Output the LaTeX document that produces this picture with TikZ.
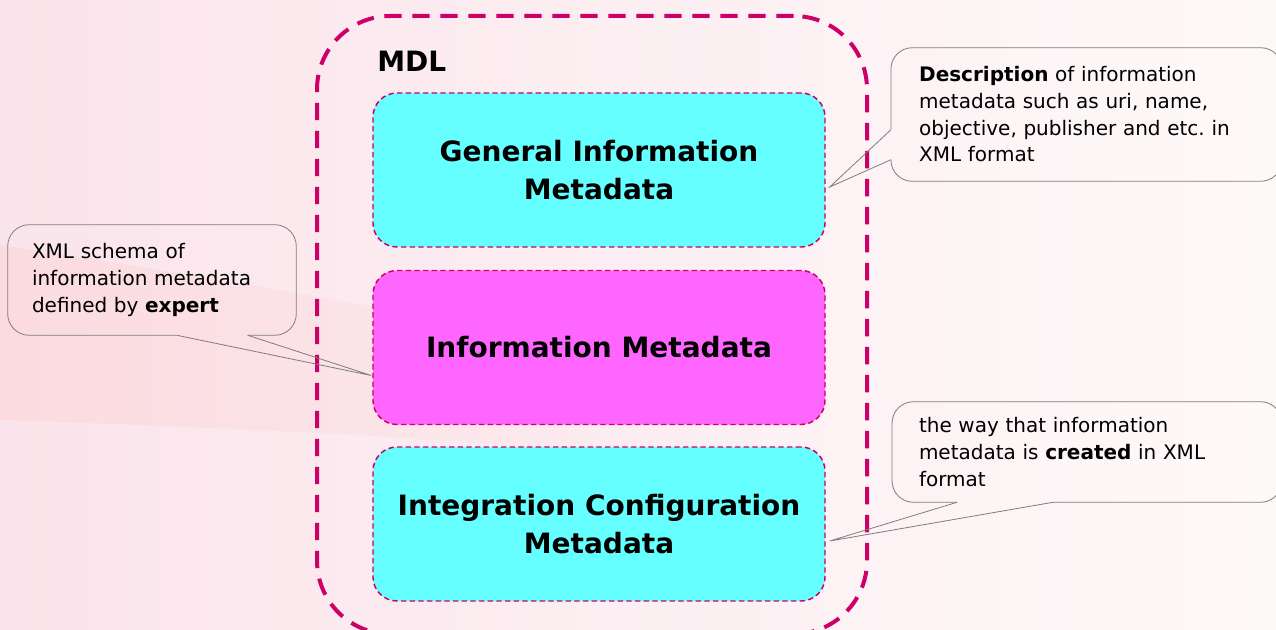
\documentclass[tikz,border=0pt]{standalone}
\usepackage{fontspec}
\setmainfont{DejaVu Sans}
\usetikzlibrary{calc,fadings}

\definecolor{mdlred}{RGB}{204,0,102}
\definecolor{metacyan}{RGB}{102,255,255}
\definecolor{metapink}{RGB}{255,102,255}
\definecolor{bgpink}{RGB}{250,228,235}
\definecolor{bgwhite}{RGB}{254,249,249}
\definecolor{notegray}{RGB}{125,125,125}

\tikzset{
  metabox/.style={draw=mdlred, line width=1.1pt, dash pattern=on 4pt off 2.5pt,
    rounded corners=18pt, minimum width=339pt, minimum height=115.5pt,
    align=center, font=\bfseries\fontsize{21}{28.5}\selectfont},
  note/.style={inner xsep=20pt, inner ysep=0pt, align=left,
    font=\fontsize{15}{20}\selectfont},
  noteline/.style={draw=notegray, line width=0.6pt}
}

\begin{document}
\frenchspacing
\begin{tikzpicture}[x=0.75pt, y=-0.75pt]
  \useasboundingbox (0,0) rectangle (1276,630);
  \fill [left color=bgpink, right color=bgwhite] (0,0) rectangle (1276,630);
  \fill [pink, opacity=0.25, path fading=east] (0,245) .. controls (300,290) and (500,330) .. (760,380)
    -- (760,470) .. controls (500,440) and (300,430) .. (0,420) -- cycle;

  % callouts
  \node (xmlnote) [note, text width=180pt, inner xsep=18pt, minimum height=82.5pt] at (152,280)
    {XML schema of\\information metadata\\defined by \textbf{expert}};
  \node (descnote) [note, text width=251pt, inner xsep=21pt, minimum height=99.75pt] at (1086.5,114.5)
    {\textbf{Description} of information\\metadata such as uri, name,\\objective, publisher and etc. in\\XML format};
  \node (waynote) [note, text width=252pt, inner xsep=20pt, minimum height=75pt] at (1087,452)
    {the way that information\\metadata is \textbf{created} in XML\\format};

  % MDL container and its parts
  \node (mdl) [draw=mdlred, line width=3pt, dash pattern=on 13pt off 8pt, rounded corners=55pt,
    minimum width=412.5pt, minimum height=463.5pt] at (592,325) {};
  \node (mdltitle) [anchor=base west, inner sep=0pt, font=\bfseries\fontsize{21}{28.5}\selectfont]
    at (377,72) {MDL};

  \node (geninfo) [metabox, fill=metacyan] at (599,170) {General Information\\Metadata};
  \node (infometa) [metabox, fill=metapink] at (599,347.5) {Information Metadata};
  \node (integmeta) [metabox, fill=metacyan] at (599,524) {Integration Configuration\\Metadata};

  % callout outlines and pointers
  \draw [noteline] ($(xmlnote.south west)+(240,0)$) [rounded corners=16pt] -- (xmlnote.south east)
    -- (xmlnote.north east) -- (xmlnote.north west) -- (xmlnote.south west)
    -- ($(xmlnote.south west)+(169,0)$);
  \draw [noteline] ($(xmlnote.south west)+(169,0)$) -- ($(infometa.west)+(-1,28)$)
    -- ($(xmlnote.south west)+(240,0)$);

  \draw [noteline] ($(descnote.north west)+(0,82)$) [rounded corners=16pt] -- (descnote.north west)
    -- (descnote.north east) -- (descnote.south east) -- (descnote.south west)
    -- ($(descnote.north west)+(0,112)$);
  \draw [noteline] ($(descnote.north west)+(0,112)$) -- ($(geninfo.east)+(4,17)$)
    -- ($(descnote.north west)+(0,82)$);

  \draw [noteline] ($(waynote.south west)+(161,0)$) [rounded corners=16pt] -- (waynote.south east)
    -- (waynote.north east) -- (waynote.north west) -- (waynote.south west)
    -- ($(waynote.south west)+(65,0)$);
  \draw [noteline] ($(waynote.south west)+(65,0)$) -- ($(integmeta.east)+(4,17)$)
    -- ($(waynote.south west)+(161,0)$);
\end{tikzpicture}
\end{document}
